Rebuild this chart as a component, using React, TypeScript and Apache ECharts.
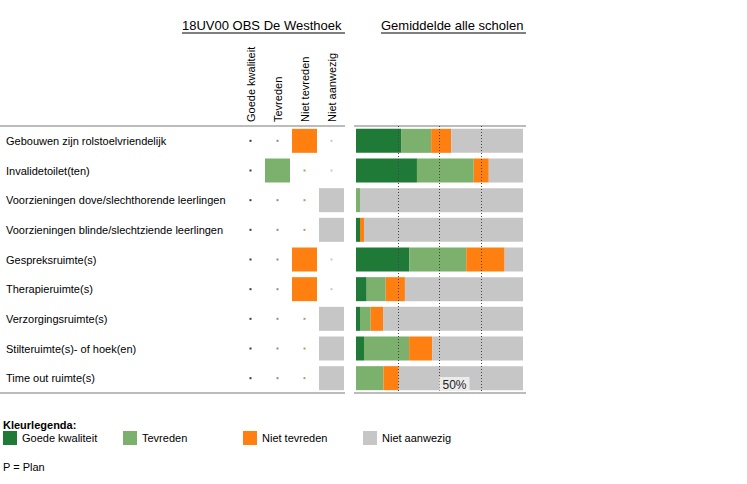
import React, { useEffect, useRef } from "react";
import * as echarts from "echarts";

const categories = [
  "Gebouwen zijn rolstoelvriendelijk",
  "Invalidetoilet(ten)",
  "Voorzieningen dove/slechthorende leerlingen",
  "Voorzieningen blinde/slechtziende leerlingen",
  "Gespreksruimte(s)",
  "Therapieruimte(s)",
  "Verzorgingsruimte(s)",
  "Stilteruimte(s)- of hoek(en)",
  "Time out ruimte(s)",
];
const columns = ["Goede kwaliteit", "Tevreden", "Niet tevreden", "Niet aanwezig"];
const schoolAnswer = [
  "Niet tevreden",
  "Tevreden",
  "Niet aanwezig",
  "Niet aanwezig",
  "Niet tevreden",
  "Niet tevreden",
  "Niet aanwezig",
  "Niet aanwezig",
  "Niet aanwezig",
];
const goedeKwaliteit = [27, 36.5, 0, 2.4, 32, 6.4, 2.4, 4.8, 0];
const tevreden = [18, 34, 2.4, 0, 34, 11.4, 6.4, 27, 16.4];
const nietTevreden = [12, 9, 0, 2.4, 23, 11.5, 7.4, 13.8, 9.2];
const nietAanwezig = [43, 20.5, 97.6, 95.2, 11, 70.7, 83.8, 54.4, 74.4];
const gridTicks = [25, 50, 75];

const COLORS = ["#1e7a36", "#7bb06d", "#ff8010", "#c6c6c6"];
const DOT_COLORS = ["#3a3a3a", "#8c8c8c", "#c8905a", "#c8c8c8"];
const FONT = "Liberation Sans, Arial, sans-serif";

export default function App() {
  const ref = useRef<HTMLDivElement>(null);
  useEffect(() => {
    if (!ref.current) return;
    const chart = echarts.init(ref.current, undefined, { renderer: "svg" });

    const squareSeries: any[] = columns.map((col, ci) => ({
      type: "scatter",
      name: "school-" + col,
      xAxisIndex: 0,
      yAxisIndex: 0,
      symbol: "rect",
      symbolSize: [25, 24],
      itemStyle: { color: COLORS[ci], opacity: 1 },
      silent: true,
      data: schoolAnswer
        .map((a, ri) => (a === col ? [col, categories[ri]] : null))
        .filter((d) => d !== null),
    }));
    const dotSeries: any[] = columns.map((col, ci) => ({
      type: "scatter",
      name: "dot-" + col,
      xAxisIndex: 0,
      yAxisIndex: 0,
      symbol: "rect",
      symbolSize: 2,
      itemStyle: { color: DOT_COLORS[ci], opacity: 1 },
      silent: true,
      data: schoolAnswer
        .map((a, ri) => (a !== col ? [col, categories[ri]] : null))
        .filter((d) => d !== null),
    }));

    const barData = [goedeKwaliteit, tevreden, nietTevreden, nietAanwezig];
    const barSeries: any[] = columns.map((col, ci) => ({
      type: "bar",
      name: col,
      xAxisIndex: 1,
      yAxisIndex: 1,
      stack: "avg",
      barWidth: 24,
      itemStyle: { color: COLORS[ci] },
      data: barData[ci],
      markLine:
        ci === 3
          ? {
              silent: true,
              symbol: "none",
              label: { show: false },
              lineStyle: { type: [1, 2], color: "#444", width: 1 },
              data: gridTicks.map((t) => ({ xAxis: t })),
            }
          : undefined,
    }));

    const option: any = {
      animation: false,
      textStyle: { fontFamily: FONT },
      grid: [
        { left: 237, top: 126, width: 108, height: 267 },
        { left: 356, top: 126, width: 167, height: 267 },
      ],
      xAxis: [
        {
          gridIndex: 0,
          type: "category",
          position: "top",
          data: columns,
          axisLine: { show: false },
          axisTick: { show: false },
          axisLabel: { rotate: -90, margin: 4, fontSize: 11, color: "#000", fontFamily: FONT },
        },
        {
          gridIndex: 1,
          type: "value",
          min: 0,
          max: 100,
          interval: 25,
          z: 10,
          axisLine: { show: false },
          axisTick: { show: false },
          splitLine: { show: false },
          axisLabel: {
            inside: true,
            margin: 2,
            align: "left",
            formatter: (v: number) => (v === 50 ? "{a|50%}" : ""),
            rich: {
              a: {
                backgroundColor: "#ececec",
                padding: [2, 3, 0, 3],
                fontSize: 12,
                color: "#222",
                fontFamily: FONT,
              },
            },
          },
        },
      ],
      yAxis: [
        {
          gridIndex: 0,
          type: "category",
          inverse: true,
          data: categories,
          axisLine: { show: false },
          axisTick: { show: false },
          axisLabel: { align: "left", margin: 231, fontSize: 11, color: "#000", fontFamily: FONT },
        },
        {
          gridIndex: 1,
          type: "category",
          inverse: true,
          data: categories,
          axisLine: { show: false },
          axisTick: { show: false },
          axisLabel: { show: false },
        },
      ],
      legend: columns.map((col, ci) => ({
        data: [col],
        left: 3 + ci * 120,
        top: 431,
        itemWidth: 14,
        itemHeight: 14,
        itemGap: 0,
        icon: "rect",
        selectedMode: false,
        padding: 0,
        textStyle: { fontSize: 11, color: "#000", fontFamily: FONT },
      })),
      graphic: [
        { type: "text", left: 182, top: 19, style: { text: "18UV00 OBS De Westhoek", font: "13px " + FONT, fill: "#000" } },
        { type: "line", shape: { x1: 182, y1: 33, x2: 345, y2: 33 }, style: { stroke: "#000", lineWidth: 1 } },
        { type: "text", left: 381, top: 19, style: { text: "Gemiddelde alle scholen", font: "13px " + FONT, fill: "#000" } },
        { type: "line", shape: { x1: 381, y1: 33, x2: 526, y2: 33 }, style: { stroke: "#000", lineWidth: 1 } },
        { type: "line", shape: { x1: 0, y1: 126, x2: 345, y2: 126 }, style: { stroke: "#a6a6a6", lineWidth: 1.5 } },
        { type: "line", shape: { x1: 0, y1: 393, x2: 345, y2: 393 }, style: { stroke: "#a6a6a6", lineWidth: 1.5 } },
        { type: "line", shape: { x1: 354, y1: 126, x2: 526, y2: 126 }, style: { stroke: "#a6a6a6", lineWidth: 1.5 } },
        { type: "line", shape: { x1: 354, y1: 393, x2: 526, y2: 393 }, style: { stroke: "#a6a6a6", lineWidth: 1.5 } },
        { type: "text", left: 3, top: 419, style: { text: "Kleurlegenda:", font: "bold 11px " + FONT, fill: "#000" } },
        { type: "text", left: 3, top: 461, style: { text: "P = Plan", font: "11px " + FONT, fill: "#000" } },
      ],
      series: [...squareSeries, ...dotSeries, ...barSeries],
    };
    chart.setOption(option);
    return () => chart.dispose();
  }, []);
  return (
    <div
      ref={ref}
      style={{ position: "absolute", left: 0, top: 0, width: 747, height: 484, background: "#fff" }}
    />
  );
}
